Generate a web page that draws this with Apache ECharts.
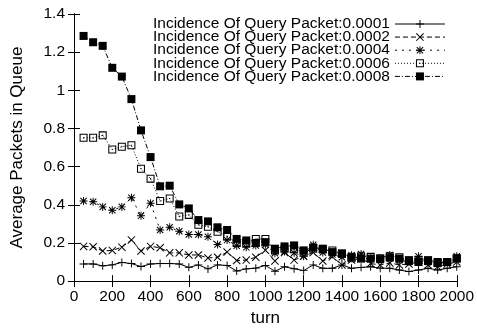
<!DOCTYPE html>
<html>
<head>
<meta charset="utf-8">
<script src="https://cdn.jsdelivr.net/npm/echarts@6/dist/echarts.min.js"></script>
<style>
  html, body { margin: 0; padding: 0; background: #fff; }
  #chart { width: 477px; height: 332px; }
</style>
</head>
<body>
<div id="chart"></div>
<script>
// Sample turns (x values)
const turns = [50, 100, 150, 200, 250, 300, 350, 400, 450, 500,
  550, 600, 650, 700, 750, 800, 850, 900, 950, 1000,
  1050, 1100, 1150, 1200, 1250, 1300, 1350, 1400, 1450, 1500,
  1550, 1600, 1650, 1700, 1750, 1800, 1850, 1900, 1950, 2000];

// Average packets in queue for each query-packet incidence
const q0001 = [0.090, 0.090, 0.080, 0.085, 0.098, 0.092, 0.076, 0.090, 0.092, 0.092,
  0.090, 0.072, 0.085, 0.064, 0.085, 0.082, 0.053, 0.064, 0.068, 0.082,
  0.052, 0.075, 0.065, 0.055, 0.085, 0.067, 0.067, 0.085, 0.067, 0.072,
  0.075, 0.068, 0.067, 0.058, 0.050, 0.058, 0.067, 0.058, 0.067, 0.075];
const q0002 = [0.182, 0.180, 0.158, 0.161, 0.178, 0.216, 0.158, 0.182, 0.175, 0.148,
  0.148, 0.137, 0.137, 0.121, 0.125, 0.152, 0.108, 0.110, 0.125, 0.162,
  0.106, 0.150, 0.110, 0.130, 0.150, 0.105, 0.127, 0.085, 0.110, 0.118,
  0.092, 0.085, 0.095, 0.085, 0.090, 0.100, 0.085, 0.075, 0.090, 0.100];
const q0004 = [0.420, 0.416, 0.389, 0.371, 0.389, 0.437, 0.342, 0.408, 0.268, 0.282,
  0.261, 0.244, 0.244, 0.232, 0.192, 0.215, 0.185, 0.177, 0.187, 0.190,
  0.146, 0.155, 0.148, 0.130, 0.190, 0.150, 0.140, 0.125, 0.135, 0.142,
  0.120, 0.120, 0.137, 0.110, 0.100, 0.130, 0.100, 0.090, 0.100, 0.130];
const q0006 = [0.751, 0.751, 0.764, 0.690, 0.704, 0.712, 0.589, 0.537, 0.420, 0.433,
  0.339, 0.347, 0.295, 0.285, 0.259, 0.235, 0.200, 0.200, 0.221, 0.221,
  0.160, 0.170, 0.170, 0.150, 0.170, 0.165, 0.160, 0.145, 0.120, 0.130,
  0.127, 0.120, 0.130, 0.125, 0.105, 0.110, 0.105, 0.095, 0.100, 0.120];
const q0008 = [1.285, 1.252, 1.233, 1.118, 1.072, 0.954, 0.790, 0.650, 0.497, 0.500,
  0.402, 0.381, 0.320, 0.313, 0.282, 0.268, 0.221, 0.213, 0.200, 0.204,
  0.170, 0.182, 0.187, 0.161, 0.176, 0.170, 0.152, 0.144, 0.127, 0.118,
  0.118, 0.115, 0.123, 0.118, 0.110, 0.100, 0.110, 0.100, 0.100, 0.118];

const seriesNames = [
  'Incidence Of Query Packet:0.0001',
  'Incidence Of Query Packet:0.0002',
  'Incidence Of Query Packet:0.0004',
  'Incidence Of Query Packet:0.0006',
  'Incidence Of Query Packet:0.0008'
];
const seriesValues = [q0001, q0002, q0004, q0006, q0008];

// Point glyphs in the classic plotting style
const PLUS = 'path://M0 4.4H10V5.6H0Z M4.4 0H5.6V10H4.4Z';
const CROSS = 'path://M0 0.9L0.9 0L10 9.1L9.1 10Z M9.1 0L10 0.9L0.9 10L0 9.1Z';
const STAR = 'path://M0 4.4H10V5.6H0Z M4.4 0H5.6V10H4.4Z M0.6 1.5L1.5 0.6L9.4 8.5L8.5 9.4Z M8.5 0.6L9.4 1.5L1.5 9.4L0.6 8.5Z';
const OPEN_SQUARE = 'path://M0 0H10V10H0Z M1.3 1.3V8.7H8.7V1.3Z M4.3 4.3H5.7V5.7H4.3Z';
const symbols = [PLUS, CROSS, STAR, OPEN_SQUARE, 'rect'];
const dashes = ['solid', [5, 3], [2, 5], [1, 2], [5, 2, 1, 2]];

const FONT = '"Liberation Sans", Arial, Helvetica, sans-serif';
const FS = 15.5;      // tick labels and key
const FS_NAME = 17;   // axis titles

const series = seriesNames.map((name, i) => ({
  name: name,
  type: 'line',
  xAxisIndex: 0,
  yAxisIndex: 0,
  data: turns.map((t, j) => [t, seriesValues[i][j]]),
  symbol: symbols[i],
  symbolSize: 8,
  showSymbol: true,
  animation: false,
  lineStyle: { color: '#000', width: 1, type: dashes[i] },
  itemStyle: { color: '#000' },
  emphasis: { disabled: true }
}));

const chart = echarts.init(document.getElementById('chart'), null, { renderer: 'canvas' });

const axisCommon = {
  axisLine: { show: true, lineStyle: { color: '#000', width: 1 } },
  axisTick: { show: true, inside: true, length: 6, lineStyle: { color: '#000', width: 1 } },
  splitLine: { show: false }
};

chart.setOption({
  animation: false,
  backgroundColor: '#fff',
  textStyle: { fontFamily: FONT },
  grid: { left: 74, right: 16, top: 14, bottom: 47, containLabel: false },
  legend: {
    orient: 'vertical',
    left: 148,
    top: 11,
    align: 'right',
    itemWidth: 50,
    itemHeight: 10,
    itemGap: -2.9,
    selectedMode: false,
    lineStyle: { width: 1 },
    textStyle: { fontFamily: FONT, fontSize: FS, color: '#000' },
    data: seriesNames
  },
  xAxis: [
    Object.assign({
      type: 'value', min: 0, max: 2000, interval: 200, position: 'bottom',
      name: 'turn', nameLocation: 'middle', nameGap: 28,
      nameTextStyle: { fontFamily: FONT, fontSize: FS_NAME, color: '#000' },
      axisLabel: { fontFamily: FONT, fontSize: FS, color: '#000', margin: 8,
        formatter: (v) => String(v) }
    }, axisCommon),
    Object.assign({
      type: 'value', min: 0, max: 2000, interval: 200, position: 'top',
      axisLabel: { show: false }
    }, axisCommon)
  ],
  yAxis: [
    Object.assign({
      type: 'value', min: 0, max: 1.4, interval: 0.2, position: 'left',
      name: 'Average Packets in Queue', nameLocation: 'middle', nameGap: 48,
      nameTextStyle: { fontFamily: FONT, fontSize: FS_NAME, color: '#000' },
      axisLabel: { fontFamily: FONT, fontSize: FS, color: '#000', margin: 9 }
    }, axisCommon),
    Object.assign({
      type: 'value', min: 0, max: 1.4, interval: 0.2, position: 'right',
      axisLabel: { show: false }
    }, axisCommon)
  ],
  series: series
});
</script>
</body>
</html>
